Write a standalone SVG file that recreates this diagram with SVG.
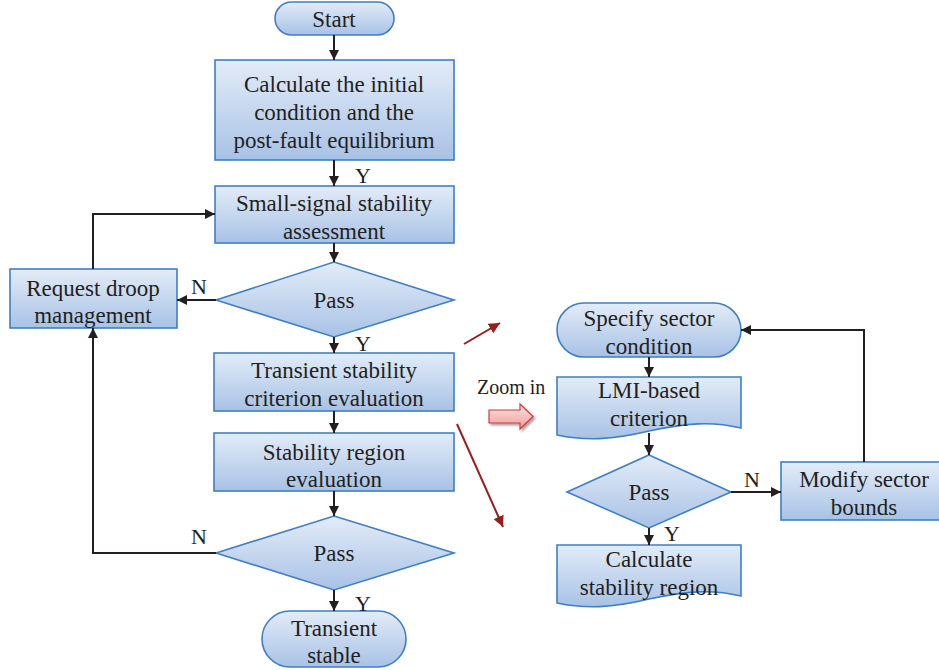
<svg xmlns="http://www.w3.org/2000/svg" width="939" height="670" viewBox="0 0 939 670">
<defs>
  <linearGradient id="fill" x1="0" y1="0" x2="0" y2="1">
    <stop offset="0" stop-color="#e3ecf8"/>
    <stop offset="1" stop-color="#a8c2e5"/>
  </linearGradient>
  <linearGradient id="pink" x1="0" y1="0" x2="0" y2="1">
    <stop offset="0" stop-color="#fde3e3"/>
    <stop offset="1" stop-color="#f19a9a"/>
  </linearGradient>
  <marker id="ah" viewBox="0 0 10 10" refX="10" refY="5" markerWidth="10" markerHeight="10" markerUnits="userSpaceOnUse" orient="auto">
    <path d="M0,0 L10,5 L0,10 Z" fill="#231f20"/>
  </marker>
  <marker id="rh" viewBox="0 0 10 10" refX="10" refY="5" markerWidth="11" markerHeight="11" markerUnits="userSpaceOnUse" orient="auto">
    <path d="M0,0 L10,5 L0,10 Z" fill="#9b1c1c"/>
  </marker>
  <filter id="sh" x="-20%" y="-20%" width="150%" height="160%">
    <feDropShadow dx="2" dy="2" stdDeviation="1.2" flood-color="#000" flood-opacity="0.35"/>
  </filter>
</defs>
<style>
  .n { fill: url(#fill); stroke: #3f7fc4; stroke-width: 1.6; }
  .t { font-family: "Liberation Serif", "Times New Roman", serif; font-size: 23px; fill: #231f20; text-anchor: middle; }
  .l { font-family: "Liberation Serif", "Times New Roman", serif; font-size: 22px; fill: #231f20; }
  .c { fill: none; stroke: #231f20; stroke-width: 2; }
  .r { fill: none; stroke: #9b1c1c; stroke-width: 2; }
</style>

<!-- main flow -->
<g id="start">
  <rect class="n" x="275" y="2" width="119" height="33" rx="16.5"/>
  <text class="t" x="334" y="27">Start</text>
</g>
<g id="init">
  <rect class="n" x="215" y="60" width="239" height="100"/>
  <text class="t" x="334" y="92">Calculate the initial</text>
  <text class="t" x="334" y="120">condition and the</text>
  <text class="t" x="334" y="148">post-fault equilibrium</text>
</g>
<g id="small-signal">
  <rect class="n" x="215" y="186" width="239" height="57"/>
  <text class="t" x="334" y="211">Small-signal stability</text>
  <text class="t" x="334" y="239">assessment</text>
</g>
<g id="pass1">
  <polygon class="n" points="334,262 454,300 334,337 216,300"/>
  <text class="t" x="334" y="308">Pass</text>
</g>
<g id="droop">
  <rect class="n" x="10" y="269" width="167" height="59"/>
  <text class="t" x="93" y="296">Request droop</text>
  <text class="t" x="93" y="323">management</text>
</g>
<g id="transient-criterion">
  <rect class="n" x="214" y="353" width="240" height="58"/>
  <text class="t" x="334" y="378">Transient stability</text>
  <text class="t" x="334" y="406">criterion evaluation</text>
</g>
<g id="region-eval">
  <rect class="n" x="214" y="433" width="240" height="58"/>
  <text class="t" x="334" y="460">Stability region</text>
  <text class="t" x="334" y="487">evaluation</text>
</g>
<g id="pass2">
  <polygon class="n" points="334,516 454,553 334,590 216,553"/>
  <text class="t" x="334" y="561">Pass</text>
</g>
<g id="stable">
  <rect class="n" x="262" y="611" width="144" height="56" rx="28"/>
  <text class="t" x="334" y="636">Transient</text>
  <text class="t" x="334" y="663">stable</text>
</g>

<!-- zoomed-in detail -->
<g id="sector">
  <rect class="n" x="557" y="303" width="184" height="54" rx="27"/>
  <text class="t" x="649" y="326">Specify sector</text>
  <text class="t" x="649" y="354">condition</text>
</g>
<g id="lmi">
  <path class="n" d="M557,377 H741 V428 C712,421 686,423 649,431 C612,440 585,441 557,435 Z"/>
  <text class="t" x="649" y="398">LMI-based</text>
  <text class="t" x="649" y="426">criterion</text>
</g>
<g id="pass3">
  <polygon class="n" points="649,455 731,492 649,528 567,492"/>
  <text class="t" x="649" y="500">Pass</text>
</g>
<g id="modify">
  <rect class="n" x="781" y="462" width="160" height="58"/>
  <text class="t" x="864" y="487">Modify sector</text>
  <text class="t" x="864" y="515">bounds</text>
</g>
<g id="calc-region">
  <path class="n" d="M557,545 H741 V596 C712,589 686,591 649,599 C612,608 585,609 557,603 Z"/>
  <text class="t" x="649" y="567">Calculate</text>
  <text class="t" x="649" y="595">stability region</text>
</g>

<!-- zoom indicator -->
<g id="zoom-indicator">
  <text class="l" x="477" y="394" style="font-size:20px">Zoom in</text>
  <path d="M489,410 H520 V404 L533,416.5 L520,429 V423 H489 Z" fill="url(#pink)" stroke="#d23a3a" stroke-width="1.2" filter="url(#sh)"/>
  <line class="r" x1="464" y1="344" x2="500" y2="323" marker-end="url(#rh)"/>
  <line class="r" x1="457" y1="424" x2="503" y2="527" marker-end="url(#rh)"/>
</g>

<!-- connectors -->
<g id="connectors">
  <line class="c" x1="334" y1="35" x2="334" y2="60" marker-end="url(#ah)"/>
  <line class="c" x1="334" y1="160" x2="334" y2="186" marker-end="url(#ah)"/>
  <line class="c" x1="334" y1="243" x2="334" y2="262" marker-end="url(#ah)"/>
  <line class="c" x1="216" y1="300" x2="177" y2="300" marker-end="url(#ah)"/>
  <polyline class="c" points="93,269 93,214 215,214" marker-end="url(#ah)"/>
  <line class="c" x1="334" y1="337" x2="334" y2="353" marker-end="url(#ah)"/>
  <line class="c" x1="334" y1="411" x2="334" y2="433" marker-end="url(#ah)"/>
  <line class="c" x1="334" y1="491" x2="334" y2="516" marker-end="url(#ah)"/>
  <polyline class="c" points="216,553 93,553 93,328" marker-end="url(#ah)"/>
  <line class="c" x1="334" y1="590" x2="334" y2="611" marker-end="url(#ah)"/>

  <line class="c" x1="649" y1="357" x2="649" y2="377" marker-end="url(#ah)"/>
  <line class="c" x1="649" y1="433" x2="649" y2="455" marker-end="url(#ah)"/>
  <line class="c" x1="731" y1="492" x2="781" y2="492" marker-end="url(#ah)"/>
  <polyline class="c" points="864,462 864,330 741,330" marker-end="url(#ah)"/>
  <line class="c" x1="649" y1="528" x2="649" y2="545" marker-end="url(#ah)"/>

  <text class="l" x="355" y="183">Y</text>
  <text class="l" x="191" y="294">N</text>
  <text class="l" x="355" y="351">Y</text>
  <text class="l" x="191" y="544">N</text>
  <text class="l" x="355" y="611">Y</text>
  <text class="l" x="744" y="487">N</text>
  <text class="l" x="664" y="541">Y</text>
</g>
</svg>
